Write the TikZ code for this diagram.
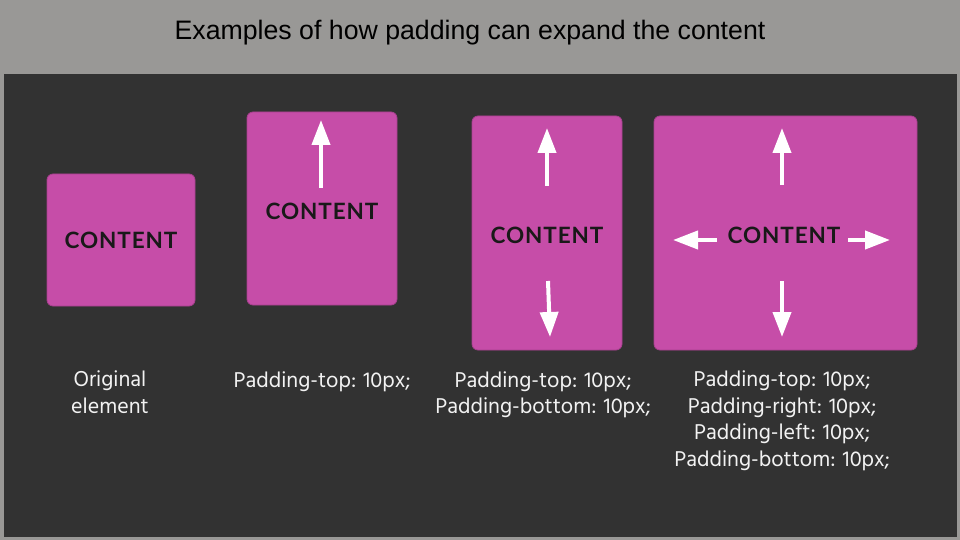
\documentclass[tikz,border=0pt]{standalone}
\usepackage{fontspec}
\setmainfont{Liberation Sans}
\newfontfamily\contentfont{Lato}[LetterSpace=4]
\newfontfamily\notefont{Hind Madurai}
\usetikzlibrary{arrows.meta}
\definecolor{pagegray}{HTML}{999896}
\definecolor{stage}{HTML}{323232}
\definecolor{boxpink}{HTML}{C64DA8}
\definecolor{boxedge}{HTML}{A8408F}
\definecolor{notewhite}{HTML}{F2F2F2}
\tikzset{
	pad box/.style={fill=boxpink, draw=boxedge, line width=0.8pt, rounded corners=6pt},
	content/.style={font=\contentfont\bfseries\fontsize{22.5}{26}\selectfont, text=black!90},
	grow arrow/.style={white, line width=4pt, -{Triangle[width=18pt, length=25pt]}},
	note/.style={font=\notefont\fontsize{22}{26.5}\selectfont, text=notewhite, align=center}
}
\begin{document}
\begin{tikzpicture}[x=1pt, y=-1pt]
	\useasboundingbox (0,0) rectangle (960,540);
	\fill[pagegray] (0,0) rectangle (960,540);
	\fill[stage] (4,74) rectangle (957,537);
	\node[font=\fontsize{26.7}{30}\selectfont] (title) at (470,33) {Examples of how padding can expand the content};

	% the four boxes
	\draw[pad box] (47,174) rectangle (195,306);
	\draw[pad box] (247,112) rectangle (397,305);
	\draw[pad box] (472,116) rectangle (622,350);
	\draw[pad box] (654,116) rectangle (917,350);

	\node[content] (orig) at (121,240) {CONTENT};
	\node[content] (top) at (322,211) {CONTENT};
	\node[content] (topbot) at (547,235) {CONTENT};
	\node[content] (all) at (784,235) {CONTENT};

	% arrows
	\coordinate (t1) at (321,188); \coordinate (t1h) at (321,120);
	\draw[grow arrow] (t1) -- (t1h);
	\coordinate (t2) at (547,186); \coordinate (t2h) at (547,128);
	\draw[grow arrow] (t2) -- (t2h);
	\coordinate (b2) at (548,281); \coordinate (b2h) at (550,337);
	\draw[grow arrow] (b2) -- (b2h);
	\coordinate (t3) at (782,185); \coordinate (t3h) at (782,128);
	\draw[grow arrow] (t3) -- (t3h);
	\coordinate (b3) at (782,281); \coordinate (b3h) at (782,337);
	\draw[grow arrow] (b3) -- (b3h);
	\coordinate (l3) at (717,240); \coordinate (l3h) at (673,240);
	\draw[grow arrow] (l3) -- (l3h);
	\coordinate (r3) at (848,240); \coordinate (r3h) at (890,240);
	\draw[grow arrow] (r3) -- (r3h);

	% captions
	\node[note] (n1) at (110,392) {Original\\element};
	\node[note] (n2) at (322,382) {Padding-top: 10px;};
	\node[note] (n3) at (543,395) {Padding-top: 10px;\\Padding-bottom: 10px;};
	\node[note] (n4) at (782,421) {Padding-top: 10px;\\Padding-right: 10px;\\Padding-left: 10px;\\Padding-bottom: 10px;};
\end{tikzpicture}
\end{document}
